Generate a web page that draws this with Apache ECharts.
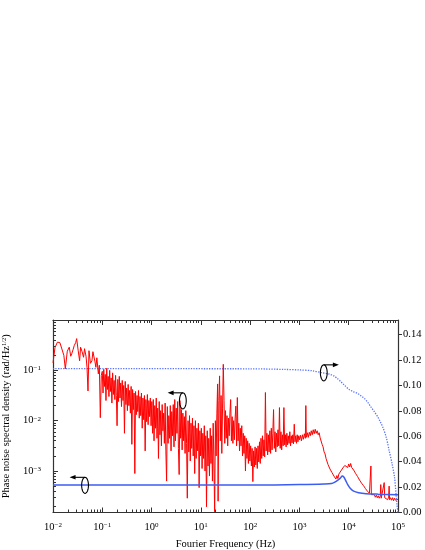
<!DOCTYPE html>
<html>
<head>
<meta charset="utf-8">
<script src="https://cdn.jsdelivr.net/npm/echarts@6/dist/echarts.min.js"></script>
<style>
  html, body { margin: 0; padding: 0; background: #fff; }
  #chart { width: 425px; height: 550px; }
</style>
</head>
<body>
<div id="chart"></div>
<script>
// values: [log10(f / Hz), log10(S / rad Hz^-1/2)]
var redLog = [
  [-2.00,-0.85],[-1.96,-0.55],[-1.91,-0.44],[-1.86,-0.45],[-1.82,-0.47],[-1.78,-0.70],[-1.75,-0.97],
  [-1.71,-0.62],[-1.67,-0.54],[-1.64,-0.72],[-1.62,-0.67],[-1.59,-0.58],[-1.57,-0.51],[-1.54,-0.45],
  [-1.52,-0.37],[-1.49,-0.60],[-1.46,-0.81],[-1.44,-0.54],[-1.41,-0.63],[-1.38,-0.74],[-1.36,-0.57],
  [-1.33,-0.72],[-1.31,-0.94],[-1.29,-1.41],[-1.27,-0.61],[-1.24,-0.86],[-1.21,-0.81],[-1.19,-0.63],
  [-1.17,-0.66],[-1.15,-0.82],[-1.13,-0.94],[-1.11,-0.75],[-1.08,-1.07],[-1.06,-0.90],[-1.04,-1.94],
  [-1.02,-1.10],
  [-1.000,-1.02],[-0.985,-1.45],[-0.970,-0.98],[-0.955,-1.32],[-0.940,-1.08],[-0.925,-1.60],
  [-0.910,-0.96],[-0.895,-1.38],[-0.880,-1.12],[-0.865,-1.52],[-0.850,-1.00],[-0.835,-1.42],
  [-0.820,-1.15],[-0.805,-1.65],[-0.790,-1.05],[-0.775,-1.48],[-0.760,-1.20],[-0.745,-1.58],
  [-0.730,-1.10],[-0.715,-1.50],[-0.700,-2.10],[-0.685,-1.18],[-0.670,-1.62],[-0.655,-1.12],
  [-0.640,-1.55],[-0.625,-1.25],[-0.610,-1.72],[-0.595,-1.20],[-0.580,-1.60],[-0.565,-1.30],
  [-0.550,-2.25],[-0.535,-1.22],[-0.520,-1.68],[-0.505,-1.35],[-0.490,-1.80],[-0.475,-1.28],
  [-0.460,-1.70],[-0.445,-1.40],[-0.430,-1.85],[-0.415,-1.32],[-0.400,-2.47],[-0.385,-1.38],
  [-0.370,-1.78],[-0.355,-1.45],[-0.340,-3.05],[-0.325,-1.42],[-0.310,-1.88],[-0.295,-1.50],
  [-0.280,-1.82],[-0.265,-1.40],[-0.250,-1.95],[-0.235,-1.52],[-0.220,-1.90],[-0.205,-1.45],
  [-0.190,-2.15],[-0.175,-1.55],[-0.160,-1.98],[-0.145,-1.50],[-0.130,-2.60],[-0.115,-1.58],
  [-0.100,-2.02],[-0.085,-1.48],[-0.070,-2.08],[-0.055,-1.60],[-0.040,-1.92],[-0.025,-1.55],
  [-0.010,-2.10],
  [0.005,-1.62],[0.020,-2.25],[0.035,-1.58],[0.050,-2.40],[0.065,-1.70],[0.080,-2.15],
  [0.095,-1.55],[0.110,-2.35],[0.125,-1.75],[0.140,-2.75],[0.155,-1.62],[0.170,-2.28],
  [0.185,-1.80],[0.200,-2.50],[0.215,-1.68],[0.230,-2.20],[0.245,-1.85],[0.260,-2.45],
  [0.275,-1.65],[0.290,-2.60],[0.305,-3.20],[0.320,-1.72],[0.335,-2.45],[0.350,-1.90],
  [0.365,-2.35],[0.380,-1.70],[0.395,-2.60],[0.410,-1.82],[0.425,-2.30],[0.440,-1.68],
  [0.455,-2.52],[0.470,-1.58],[0.485,-2.40],[0.500,-1.75],[0.515,-2.25],[0.530,-1.62],
  [0.545,-2.55],[0.560,-3.07],[0.575,-1.60],[0.590,-2.35],[0.605,-1.78],[0.620,-2.58],
  [0.635,-1.85],[0.650,-2.40],[0.665,-1.92],[0.680,-2.65],[0.695,-1.80],[0.710,-2.45],
  [0.725,-3.54],[0.740,-2.00],[0.755,-2.62],[0.770,-1.90],[0.785,-2.80],[0.800,-2.05],
  [0.815,-2.55],[0.830,-1.95],[0.845,-2.70],[0.860,-2.10],[0.875,-3.05],[0.890,-2.00],
  [0.905,-2.75],[0.920,-2.15],[0.935,-2.60],[0.950,-2.05],[0.965,-3.33],[0.980,-2.20],
  [0.995,-2.70],
  [1.010,-2.15],[1.025,-2.95],[1.040,-2.25],[1.055,-2.75],[1.070,-2.10],[1.085,-3.00],
  [1.100,-2.30],[1.115,-3.71],[1.130,-2.20],[1.145,-2.90],[1.160,-2.35],[1.175,-3.10],
  [1.190,-2.15],[1.205,-2.85],[1.220,-2.30],[1.235,-3.20],[1.250,-2.05],[1.265,-2.80],
  [1.280,-3.81],[1.295,-2.00],[1.310,-2.70],[1.325,-1.85],[1.340,-1.27],[1.350,-3.60],
  [1.365,-1.60],[1.380,-1.11],[1.395,-2.40],[1.410,-1.50],[1.425,-2.65],[1.440,-1.75],
  [1.455,-0.88],[1.470,-1.60],[1.485,-2.45],[1.500,-1.80],[1.515,-2.35],[1.530,-1.90],
  [1.545,-2.50],[1.560,-1.95],[1.575,-2.30],[1.590,-1.85],[1.605,-1.58],[1.620,-2.40],
  [1.635,-1.92],[1.650,-2.45],[1.665,-2.00],[1.680,-2.38],[1.695,-1.95],[1.710,-1.71],
  [1.725,-2.50],[1.740,-1.54],[1.755,-2.40],[1.770,-2.05],[1.785,-2.60],[1.800,-2.15],
  [1.815,-2.50],[1.830,-2.10],[1.845,-2.70],[1.860,-2.25],[1.875,-2.65],[1.890,-2.30],
  [1.905,-3.00],[1.920,-2.35],[1.935,-2.75],[1.950,-2.40],[1.965,-2.85],[1.980,-2.45],
  [1.995,-2.80],
  [2.010,-2.50],[2.025,-2.90],[2.040,-2.55],[2.055,-3.21],[2.070,-2.60],[2.085,-2.92],
  [2.100,-2.52],[2.115,-2.88],[2.130,-2.55],[2.145,-2.95],[2.160,-2.50],[2.175,-2.82],
  [2.190,-2.42],[2.205,-2.85],[2.220,-2.35],[2.235,-2.75],[2.250,-2.30],[2.265,-2.70],
  [2.280,-2.38],[2.295,-2.72],[2.310,-1.44],[2.325,-2.60],[2.340,-2.25],[2.355,-2.68],
  [2.370,-2.28],[2.385,-2.62],[2.400,-2.20],[2.415,-2.65],[2.430,-2.15],[2.445,-2.58],
  [2.460,-2.25],[2.475,-1.78],[2.490,-2.55],[2.505,-2.22],[2.520,-2.62],[2.535,-2.25],
  [2.550,-2.52],[2.565,-2.18],[2.580,-2.50],[2.595,-1.74],[2.610,-2.55],[2.625,-2.22],
  [2.640,-2.58],[2.655,-2.28],[2.670,-2.50],[2.685,-1.74],[2.700,-2.48],[2.715,-2.28],
  [2.730,-2.52],[2.745,-2.25],[2.760,-2.48],[2.775,-2.30],[2.790,-2.45],[2.805,-2.22],
  [2.820,-2.50],[2.835,-2.30],[2.850,-2.44],[2.865,-2.28],[2.880,-2.46],[2.895,-2.07],
  [2.910,-2.42],[2.925,-2.30],[2.940,-2.45],[2.955,-2.28],[2.970,-2.42],[2.985,-2.30],
  [3.00,-2.38],[3.02,-2.29],[3.04,-2.40],[3.06,-2.28],[3.08,-2.37],[3.10,-2.26],[3.12,-2.35],
  [3.13,-1.70],[3.14,-2.33],[3.16,-2.24],[3.18,-2.33],[3.20,-2.23],[3.22,-2.30],[3.24,-2.20],
  [3.26,-2.28],[3.28,-2.18],[3.30,-2.26],[3.32,-2.17],[3.34,-2.25],[3.36,-2.20],[3.38,-2.28],
  [3.40,-2.24],[3.42,-2.34],[3.44,-2.36],[3.46,-2.47],[3.48,-2.52],[3.50,-2.62],[3.52,-2.66],
  [3.54,-2.75],[3.56,-2.78],[3.58,-2.87],[3.60,-2.89],[3.62,-2.96],[3.64,-2.95],[3.66,-3.03],
  [3.68,-3.02],[3.70,-3.10],[3.72,-3.08],[3.74,-3.16],[3.76,-3.09],[3.78,-3.15],[3.80,-3.06],
  [3.82,-3.08],[3.84,-3.00],[3.86,-3.02],[3.88,-2.94],[3.90,-2.96],[3.92,-2.89],[3.94,-2.92],
  [3.96,-2.87],[3.98,-2.93],[4.00,-2.86],[4.02,-2.92],[4.04,-2.85],[4.06,-2.93],[4.08,-2.92],
  [4.10,-2.98],[4.12,-2.99],[4.14,-3.05],[4.16,-3.06],[4.18,-3.11],[4.20,-3.12],[4.22,-3.18],
  [4.24,-3.19],[4.26,-3.24],[4.28,-3.25],[4.30,-3.29],[4.32,-3.30],[4.34,-3.35],[4.36,-3.35],
  [4.38,-3.40],[4.40,-3.40],[4.42,-3.44],[4.44,-3.43],[4.45,-2.90],[4.46,-3.47],[4.48,-3.45],
  [4.50,-3.50],[4.52,-3.47],[4.54,-3.52],[4.56,-3.48],[4.58,-3.53],[4.60,-3.49],[4.62,-3.54],
  [4.64,-3.50],[4.65,-3.27],[4.66,-3.54],[4.68,-3.51],[4.70,-3.55],[4.72,-3.23],[4.73,-3.53],
  [4.75,-3.56],[4.77,-3.51],[4.79,-3.57],[4.81,-3.52],[4.82,-3.30],[4.83,-3.57],[4.85,-3.53],
  [4.87,-3.58],[4.89,-3.53],[4.91,-3.59],[4.93,-3.54],[4.95,-3.58],[4.97,-3.55],[4.99,-3.59],
  [5.00,-3.56]
];

// blue solid curve, left axis: [log10(f), log10(S)]
var blueLog = [
  [-2.00,-3.28],[1.00,-3.28],[2.00,-3.28],[3.00,-3.27],[3.50,-3.26],[3.65,-3.25],[3.72,-3.22],
  [3.78,-3.18],[3.83,-3.14],[3.87,-3.10],[3.90,-3.12],[3.94,-3.19],[3.98,-3.27],[4.03,-3.34],
  [4.10,-3.40],[4.20,-3.43],[4.35,-3.45],[4.60,-3.46],[5.00,-3.47]
];

// blue dotted curve, right axis: [log10(f), value]
var dottedLog = [
  [-2.00,0.1132],[2.00,0.1131],[2.70,0.1126],[3.00,0.1122],[3.27,0.1115],[3.45,0.1100],
  [3.60,0.1090],[3.70,0.1075],[3.77,0.1055],[3.84,0.1030],[3.91,0.1003],[4.01,0.0968],
  [4.10,0.0950],[4.18,0.0937],[4.25,0.0918],[4.32,0.0897],[4.39,0.0865],[4.45,0.0831],
  [4.52,0.0793],[4.59,0.0752],[4.64,0.0715],[4.69,0.0673],[4.76,0.0594],[4.82,0.0488],
  [4.88,0.0383],[4.93,0.0277],[4.96,0.0145],[4.98,0.0060],[5.00,0.0000]
];

// ellipse-and-arrow markers: [f at ellipse, y value, f at arrow tip]
var leftMarkers = [[0.0447, 5.2e-4, 0.0217], [4.31, 0.0248, 2.12]];
var rightMarkers = [[3120, 0.1099, 6310]];

var font = 'Liberation Serif';

function pow10(p) { return [Math.pow(10, p[0]), Math.pow(10, p[1])]; }

function decadeLabel(v) {
  var e = Math.log10(v);
  var r = Math.round(e);
  if (Math.abs(e - r) > 1e-6) return '';
  return '{b|10}{s|' + (r < 0 ? '\u2212' : '') + Math.abs(r) + '}';
}

var supRich = {
  b: { fontFamily: font, fontSize: 10.5, color: '#000', lineHeight: 11, padding: [4, 0, 0, 0], verticalAlign: 'bottom' },
  s: { fontFamily: font, fontSize: 7, color: '#000', lineHeight: 8, verticalAlign: 'top' }
};

function renderMarker(params, api) {
  var c = api.coord([api.value(0), api.value(1)]);
  var tip = api.coord([api.value(2), api.value(1)]);
  var rx = 3.4, ry = 8;
  var pts = [];
  for (var i = 0; i < 40; i++) {
    var a = i / 40 * Math.PI * 2;
    pts.push([c[0] + rx * Math.cos(a), c[1] + ry * Math.sin(a)]);
  }
  var y = c[1] - ry;
  var dir = tip[0] < c[0] ? -1 : 1;
  return {
    type: 'group',
    children: [
      { type: 'polygon', shape: { points: pts }, style: { fill: 'none', stroke: '#000', lineWidth: 1.1 } },
      { type: 'line', shape: { x1: c[0], y1: y, x2: tip[0] - dir * 4, y2: y }, style: { stroke: '#000', lineWidth: 1.1 } },
      { type: 'polygon', shape: { points: [[tip[0], y], [tip[0] - dir * 6, y - 2.3], [tip[0] - dir * 6, y + 2.3]] }, style: { fill: '#000' } }
    ]
  };
}

var axisColor = '#333';

var logX = {
  type: 'log', logBase: 10, min: 0.01, max: 1e5,
  axisLine: { show: true, lineStyle: { color: axisColor, width: 1.2 } },
  axisTick: { show: true, inside: true, length: 5, lineStyle: { color: axisColor } },
  minorTick: { show: true, splitNumber: 9, length: 3, lineStyle: { color: axisColor } },
  splitLine: { show: false },
  minorSplitLine: { show: false }
};

var chart = echarts.init(document.getElementById('chart'));
chart.setOption({
  animation: false,
  backgroundColor: '#fff',
  grid: { left: 53, right: 27, top: 320, bottom: 37.5, containLabel: false, outerBoundsMode: 'none' },
  xAxis: [
    Object.assign({}, logX, {
      position: 'bottom',
      name: 'Fourier Frequency (Hz)', nameLocation: 'middle', nameGap: 26,
      nameTextStyle: { fontFamily: font, fontSize: 10.5, color: '#000' },
      axisLabel: { margin: 9, formatter: decadeLabel, rich: supRich, showMinLabel: true, showMaxLabel: true }
    }),
    Object.assign({}, logX, { position: 'top', axisLabel: { show: false } })
  ],
  yAxis: [
    {
      type: 'log', logBase: 10, min: 1.5e-4, max: 1, position: 'left',
      name: 'Phase noise spectral density (rad/Hz{s|1/2})',
      nameLocation: 'middle', nameGap: 41,
      nameTextStyle: { fontFamily: font, fontSize: 10.5, color: '#000', rich: {
        s: { fontFamily: font, fontSize: 6.5, color: '#000', verticalAlign: 'top', lineHeight: 8 }
      } },
      axisLine: { show: true, lineStyle: { color: axisColor, width: 1.2 } },
      axisTick: { show: true, inside: true, length: 5, lineStyle: { color: axisColor } },
      minorTick: { show: true, splitNumber: 9, length: 3, lineStyle: { color: axisColor } },
      axisLabel: { margin: 12, formatter: decadeLabel, rich: supRich, showMaxLabel: false },
      splitLine: { show: false },
      minorSplitLine: { show: false }
    },
    {
      type: 'value', min: 0, max: 0.1515, interval: 0.02, position: 'right',
      axisLine: { show: true, lineStyle: { color: axisColor, width: 1.2 } },
      axisTick: { show: true, inside: false, length: 4, lineStyle: { color: axisColor } },
      axisLabel: {
        margin: 5, showMaxLabel: false, fontFamily: font, fontSize: 10.5, color: '#000',
        formatter: function (v) { return v.toFixed(2); }
      },
      splitLine: { show: false }
    }
  ],
  series: [
    {
      name: 'dotted', type: 'line', xAxisIndex: 0, yAxisIndex: 1,
      data: dottedLog.map(function (p) { return [Math.pow(10, p[0]), p[1]]; }),
      showSymbol: false, smooth: 0.3,
      lineStyle: { color: '#5a74ff', width: 1.3, type: [1.3, 1.3] }
    },
    {
      name: 'noise', type: 'line', xAxisIndex: 0, yAxisIndex: 0,
      data: redLog.map(pow10),
      showSymbol: false, sampling: null,
      lineStyle: { color: '#ff0000', width: 1 }
    },
    {
      name: 'solid', type: 'line', xAxisIndex: 0, yAxisIndex: 0,
      data: blueLog.map(pow10),
      showSymbol: false, smooth: 0.3, z: 3,
      lineStyle: { color: '#3d5cf2', width: 1.5 }
    },
    {
      type: 'custom', xAxisIndex: 0, yAxisIndex: 0, z: 5, clip: false,
      renderItem: renderMarker, data: leftMarkers, silent: true
    },
    {
      type: 'custom', xAxisIndex: 0, yAxisIndex: 1, z: 5, clip: false,
      renderItem: renderMarker, data: rightMarkers, silent: true
    }
  ]
});
</script>
</body>
</html>
